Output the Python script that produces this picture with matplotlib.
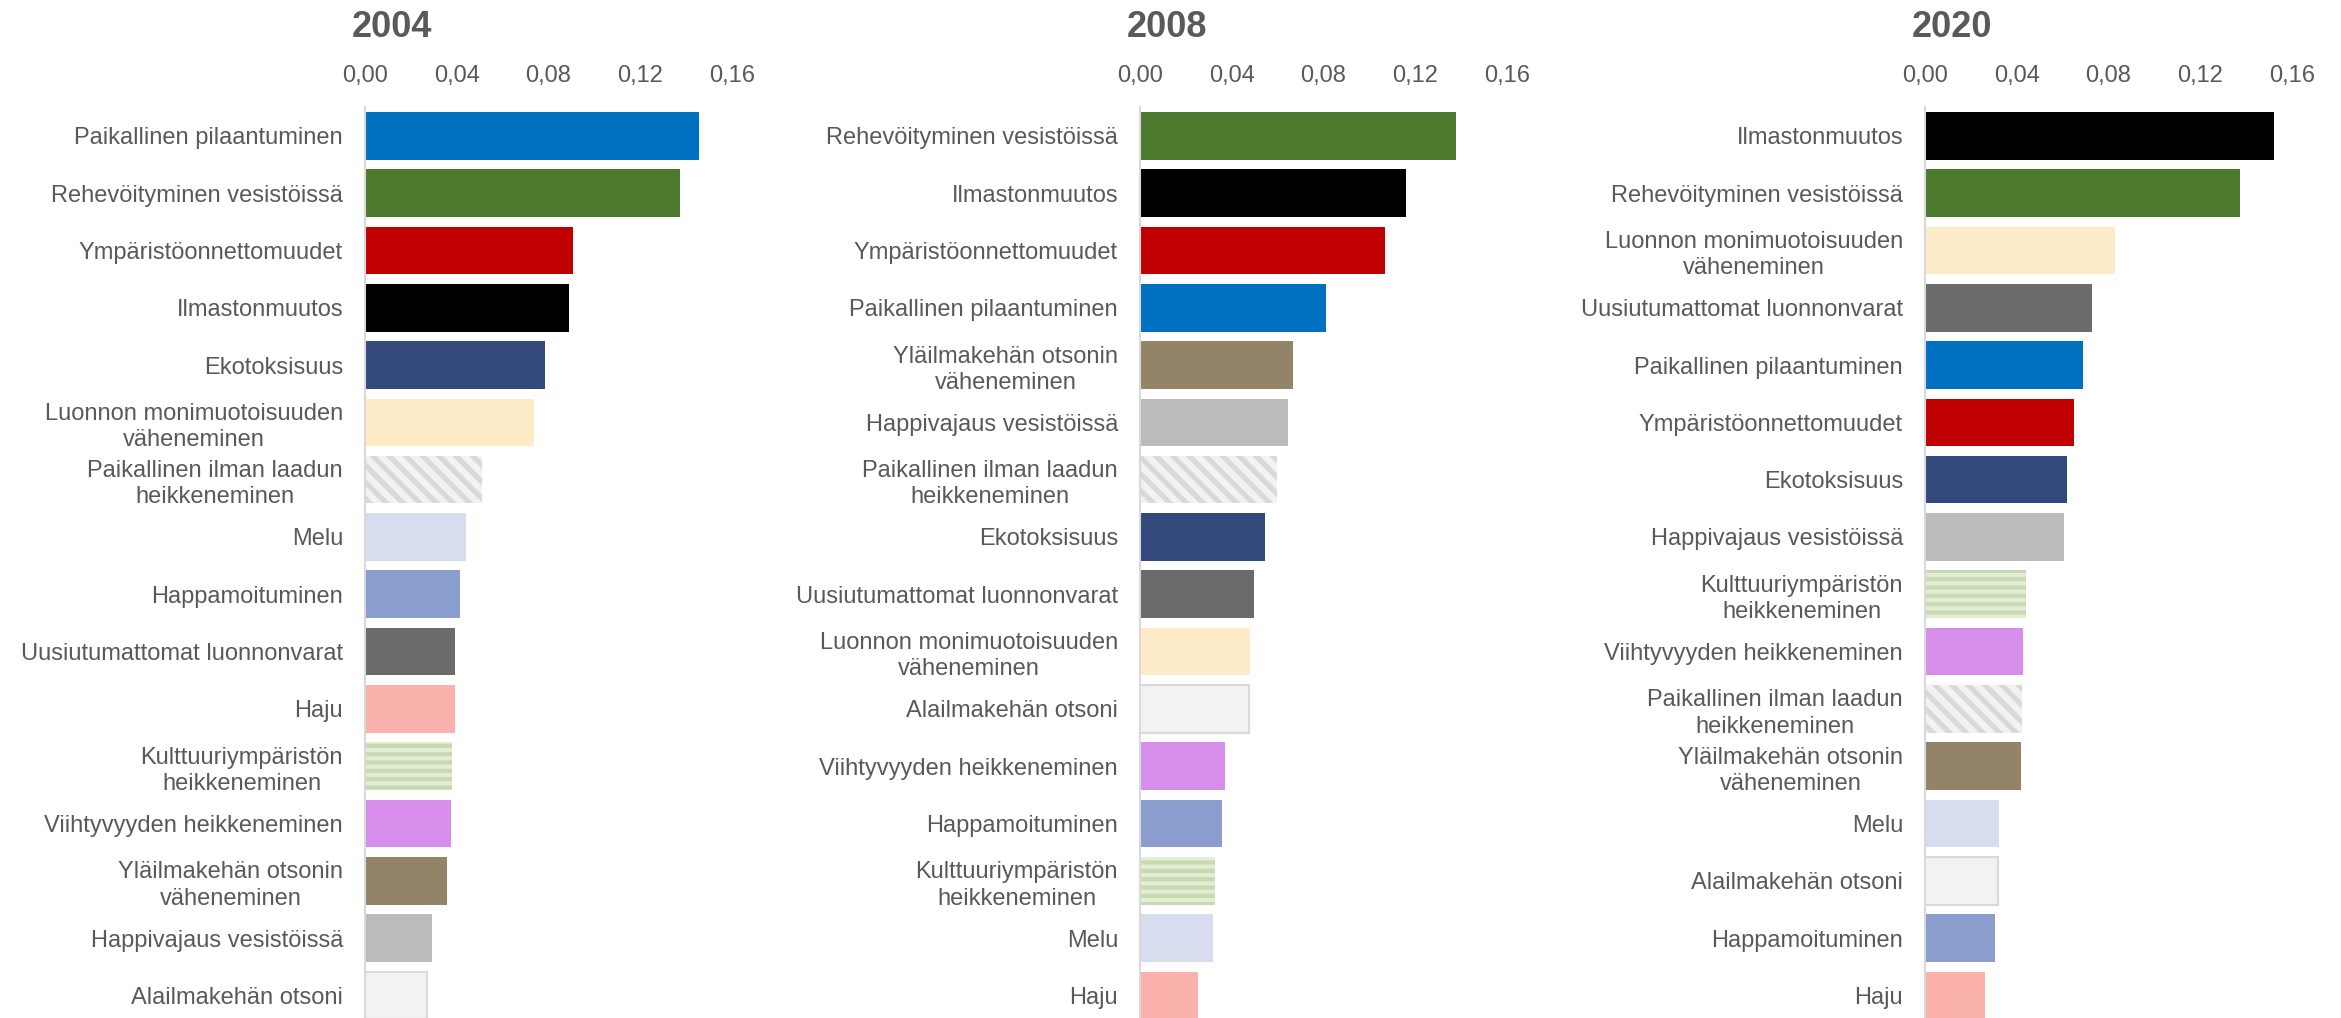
import matplotlib
matplotlib.use("Agg")
import matplotlib.pyplot as plt

# ---- data ----
years = ["2004", "2008", "2020"]

labels_2004 = [
    "Paikallinen pilaantuminen", "Rehevöityminen vesistöissä", "Ympäristöonnettomuudet",
    "Ilmastonmuutos", "Ekotoksisuus", "Luonnon monimuotoisuuden\nväheneminen",
    "Paikallinen ilman laadun\nheikkeneminen", "Melu", "Happamoituminen",
    "Uusiutumattomat luonnonvarat", "Haju", "Kulttuuriympäristön\nheikkeneminen",
    "Viihtyvyyden heikkeneminen", "Yläilmakehän otsonin\nväheneminen",
    "Happivajaus vesistöissä", "Alailmakehän otsoni",
]
values_2004 = [0.1455, 0.1373, 0.0908, 0.0890, 0.0783, 0.0737, 0.0512, 0.0439,
               0.0413, 0.0391, 0.0391, 0.0378, 0.0374, 0.0357, 0.0290, 0.0270]

labels_2008 = [
    "Rehevöityminen vesistöissä", "Ilmastonmuutos", "Ympäristöonnettomuudet",
    "Paikallinen pilaantuminen", "Yläilmakehän otsonin\nväheneminen",
    "Happivajaus vesistöissä", "Paikallinen ilman laadun\nheikkeneminen",
    "Ekotoksisuus", "Uusiutumattomat luonnonvarat",
    "Luonnon monimuotoisuuden\nväheneminen", "Alailmakehän otsoni",
    "Viihtyvyyden heikkeneminen", "Happamoituminen",
    "Kulttuuriympäristön\nheikkeneminen", "Melu", "Haju",
]
values_2008 = [0.1377, 0.1159, 0.1068, 0.0809, 0.0668, 0.0646, 0.0599, 0.0547,
               0.0499, 0.0478, 0.0476, 0.0370, 0.0357, 0.0329, 0.0320, 0.0255]

labels_2020 = [
    "Ilmastonmuutos", "Rehevöityminen vesistöissä",
    "Luonnon monimuotoisuuden\nväheneminen", "Uusiutumattomat luonnonvarat",
    "Paikallinen pilaantuminen", "Ympäristöonnettomuudet", "Ekotoksisuus",
    "Happivajaus vesistöissä", "Kulttuuriympäristön\nheikkeneminen",
    "Viihtyvyyden heikkeneminen", "Paikallinen ilman laadun\nheikkeneminen",
    "Yläilmakehän otsonin\nväheneminen", "Melu", "Alailmakehän otsoni",
    "Happamoituminen", "Haju",
]
values_2020 = [0.1522, 0.1373, 0.0830, 0.0726, 0.0688, 0.0649, 0.0619, 0.0606,
               0.0441, 0.0428, 0.0424, 0.0420, 0.0322, 0.0318, 0.0305, 0.0262]

xticks = [0.00, 0.04, 0.08, 0.12, 0.16]
xtick_labels = ["0,00", "0,04", "0,08", "0,12", "0,16"]

# ---- styles per category: (face, hatch/edge colour, hatch, hatch lw) ----
styles = {
    "Paikallinen pilaantuminen": ("#0070C0", None, None, 0),
    "Rehevöityminen vesistöissä": ("#4E7A2E", None, None, 0),
    "Ympäristöonnettomuudet": ("#C00000", None, None, 0),
    "Ilmastonmuutos": ("#000000", None, None, 0),
    "Ekotoksisuus": ("#33487B", None, None, 0),
    "Luonnon monimuotoisuuden\nväheneminen": ("#FEEBC8", None, None, 0),
    "Paikallinen ilman laadun\nheikkeneminen": ("#F2F2F2", "#D9D9D9", "\\\\", 3.8),
    "Melu": ("#D7DDEE", None, None, 0),
    "Happamoituminen": ("#8A9DCC", None, None, 0),
    "Uusiutumattomat luonnonvarat": ("#6B6B6B", None, None, 0),
    "Haju": ("#FBB2AC", None, None, 0),
    "Kulttuuriympäristön\nheikkeneminen": ("#E3ECD6", "#CADAB0", "--", 3.1),
    "Viihtyvyyden heikkeneminen": ("#D68EEA", None, None, 0),
    "Yläilmakehän otsonin\nväheneminen": ("#938469", None, None, 0),
    "Happivajaus vesistöissä": ("#BBBBBB", None, None, 0),
    "Alailmakehän otsoni": ("#F2F2F2", "#D9D9D9", "edge", 0),
}

TXT = "#595959"
plt.rcParams['font.family'] = ['Liberation Sans', 'DejaVu Sans']

W, H = 2341, 1018
fig = plt.figure(figsize=(W / 100, H / 100), dpi=100)

panels = [
    (years[0], labels_2004, values_2004, 365.0),
    (years[1], labels_2008, values_2008, 1140.0),
    (years[2], labels_2020, values_2020, 1925.0),
]
ax_w = 367.0 / W
ax_h = 910.8 / H

for year, labels, values, x0 in panels:
    ax = fig.add_axes([x0 / W, 0.0, ax_w, ax_h])
    pos = list(range(len(labels)))
    for p, lab, val in zip(pos, labels, values):
        face, ec, hatch, hlw = styles[lab]
        if hatch == "edge":
            ax.barh(p, val, height=0.83, color=face, edgecolor=ec, linewidth=1.5)
        elif hatch:
            plt.rcParams['hatch.linewidth'] = hlw
            ax.barh(p, val, height=0.83, color=face, edgecolor=ec, linewidth=0, hatch=hatch)
        else:
            ax.barh(p, val, height=0.83, color=face, linewidth=0)

    ax.set_xlim(0, 0.16)
    ax.set_ylim(15.395, -0.5)
    ax.xaxis.tick_top()
    ax.set_xticks(xticks, xtick_labels)
    ax.set_yticks(pos, labels)
    ax.tick_params(axis='x', length=0, pad=14.7, labelsize=17, labelcolor=TXT)
    ax.tick_params(axis='y', length=0, pad=15.8, labelsize=17, labelcolor=TXT)
    for t in ax.get_yticklabels():
        t.set_multialignment('center')
        t.set_linespacing(1.25)

    for s in ['top', 'right', 'bottom']:
        ax.spines[s].set_visible(False)
    ax.spines['left'].set_color('#D9D9D9')
    ax.spines['left'].set_linewidth(1.5)

    ax.annotate(year, xy=(0, 1), xycoords='axes fraction', xytext=(19.6, 50.8),
                textcoords='offset points', ha='center', va='baseline',
                fontsize=26, fontweight='bold', color=TXT)

fig.savefig("out.png", dpi=100)
